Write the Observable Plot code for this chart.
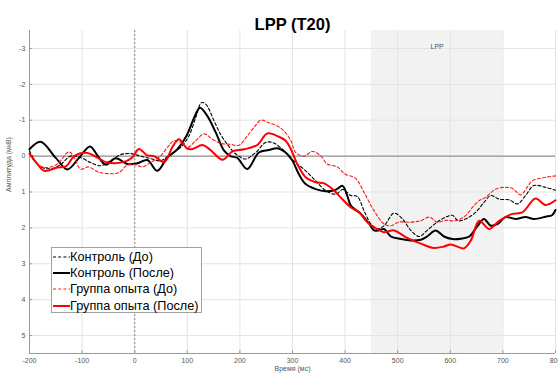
<!DOCTYPE html>
<html><head><meta charset="utf-8">
<script src="https://cdn.jsdelivr.net/npm/d3@7"></script>
<script src="https://cdn.jsdelivr.net/npm/@observablehq/plot@0.6"></script>
<style>
body{margin:0;background:#fff;font-family:"Liberation Sans",Arial,sans-serif;}
#wrap{position:relative;width:558px;height:376px;overflow:hidden;}
#legend{position:absolute;left:51px;top:247px;width:151px;height:66px;border:1px solid #a0a0a0;background:#fff;box-sizing:border-box;padding-top:1px;}
#legend .row{display:flex;align-items:center;height:16.2px;font-size:12.7px;color:#000;white-space:nowrap;}
#legend svg{display:block;margin-right:0px;}
</style>
</head><body>
<div id="wrap"></div>
<script>
// ---- data (time in ms, amplitude in µV) ----
const seriesNames = ["Контроль (До)", "Контроль (После)", "Группа опыта (До)", "Группа опыта (После)"];
const xTicks = [-200,-100,0,100,200,300,400,500,600,700,800];
const yTicks = [-3,-2,-1,0,1,2,3,4,5];
const lppWindow = [{start:450, end:700, mid:575, label:"LPP"}];

const controlBefore = [[-200,-0.15],[-185,0.22],[-172,0.34],[-153,0.33],[-138,0.2],[-122,0.0],[-103,0.04],[-84,0.18],[-65,0.27],[-46,0.13],[-27,-0.04],[-8,-0.07],[11,0.0],[30,0.07],[49,0.13],[68,-0.05],[87,-0.24],[103,-0.56],[116,-1.07],[127,-1.49],[135,-1.45],[151,-0.98],[163,-0.61],[176,-0.33],[189,-0.1],[200,0.02],[211,0.08],[230,-0.1],[249,-0.38],[262,-0.38],[281,-0.19],[293,0.0],[306,0.18],[325,0.41],[344,0.69],[363,0.96],[382,1.06],[396,0.93],[411,1.1],[423,1.12],[436,1.52],[449,1.89],[461,2.03],[474,1.94],[493,1.59],[509,1.75],[525,2.07],[541,2.24],[556,2.07],[575,1.84],[591,1.7],[604,1.65],[615,1.8],[629,1.75],[648,1.57],[664,1.29],[677,1.1],[693,1.2],[712,1.22],[728,1.33],[743,1.1],[759,0.82],[781,0.87],[800,0.95]];

const controlAfter = [[-200,-0.19],[-179,-0.4],[-150,0.05],[-128,0.37],[-105,0.03],[-85,-0.27],[-70,0.0],[-55,0.24],[-36,0.06],[-14,0.22],[5,0.2],[24,0.11],[43,0.41],[62,0.04],[81,-0.19],[100,-0.61],[113,-1.07],[124,-1.35],[138,-1.12],[154,-0.66],[170,-0.15],[182,0.0],[195,0.05],[214,0.36],[236,-0.1],[255,-0.17],[271,-0.22],[287,-0.1],[300,0.13],[312,0.5],[325,0.78],[344,0.92],[363,0.98],[382,0.94],[395,0.83],[404,1.1],[411,1.38],[430,1.61],[446,1.89],[455,2.07],[464,2.07],[474,2.03],[487,2.24],[506,2.31],[525,2.35],[544,2.33],[556,2.24],[572,2.07],[588,2.24],[604,2.31],[620,2.3],[636,2.24],[652,1.94],[664,1.75],[677,1.94],[690,1.89],[705,1.7],[724,1.75],[743,1.7],[759,1.75],[781,1.69],[794,1.64],[800,1.5]];

const groupBefore = [[-200,-0.05],[-185,0.22],[-168,0.32],[-147,0.22],[-125,-0.12],[-115,0.04],[-103,0.36],[-88,0.3],[-68,0.45],[-48,0.49],[-30,0.46],[-14,0.25],[0,0.24],[15,0.3],[30,0.18],[49,0.0],[62,-0.24],[75,-0.43],[87,-0.39],[100,-0.24],[116,-0.43],[132,-0.62],[148,-0.47],[165,-0.35],[182,-0.33],[198,-0.3],[214,-0.56],[227,-0.8],[240,-1.0],[255,-0.93],[271,-0.84],[284,-0.7],[297,-0.43],[306,-0.1],[322,0.0],[338,-0.13],[354,0.0],[366,0.22],[385,0.3],[400,0.5],[420,0.62],[436,1.01],[455,1.52],[474,1.89],[487,1.94],[502,1.84],[525,1.84],[544,1.8],[560,1.7],[575,1.84],[591,1.79],[610,1.8],[629,1.66],[642,1.43],[655,1.24],[667,1.15],[686,0.92],[705,0.87],[718,0.9],[734,1.08],[746,0.87],[756,0.69],[781,0.59],[800,0.55]];

const groupAfter = [[-200,-0.07],[-185,0.22],[-172,0.41],[-147,0.32],[-130,0.28],[-115,0.0],[-90,-0.09],[-71,0.04],[-52,0.18],[-20,0.16],[-4,0.03],[8,-0.2],[24,-0.02],[37,0.0],[56,0.17],[72,-0.26],[84,-0.47],[100,-0.21],[110,-0.2],[129,-0.31],[144,-0.17],[167,0.1],[186,-0.13],[208,-0.19],[233,-0.31],[252,-0.63],[274,-0.54],[287,-0.43],[297,-0.19],[309,0.22],[325,0.59],[344,0.73],[360,0.76],[376,0.92],[395,1.2],[411,1.43],[427,1.57],[442,1.84],[455,1.98],[474,2.12],[493,2.07],[518,2.28],[544,2.44],[569,2.56],[588,2.52],[601,2.46],[626,2.57],[639,2.35],[655,1.8],[674,2.03],[693,1.8],[718,1.61],[737,1.57],[762,1.18],[781,1.36],[800,1.23]];

// ---- styles ----
const styles = [
  {data: controlBefore, stroke:"#000", strokeWidth:1.1, dash:"3,2.2"},
  {data: controlAfter,  stroke:"#000", strokeWidth:2,   dash:null},
  {data: groupBefore,   stroke:"#ff1a1a", strokeWidth:1.1, dash:"3,2.2"},
  {data: groupAfter,    stroke:"#ff0000", strokeWidth:2,   dash:null}
];

const font = "Liberation Sans, Arial, sans-serif";
const chart = Plot.plot({
  width: 558, height: 376,
  marginTop: 30, marginBottom: 23, marginLeft: 29, marginRight: 3,
  style: {fontFamily: font, fontSize: "7px", color: "#4d4d4d", background: "#fff"},
  x: {domain: [-200, 800], label: null},
  y: {domain: [-3.5, 5.5], reverse: true, label: null},
  marks: [
    Plot.rect(lppWindow, {x1: "start", x2: "end", fill: "#f2f2f2"}),
    Plot.gridX(xTicks, {stroke: "#e3e3e3", strokeOpacity: 1}),
    Plot.gridY(yTicks, {stroke: "#e3e3e3", strokeOpacity: 1}),
    Plot.axisX(xTicks, {tickSize: 0, tickPadding: 5, fill: "#555", tickFormat: d => d}),
    Plot.axisY(yTicks, {tickSize: 0, tickPadding: 4, fill: "#555", tickFormat: d => d}),
    Plot.ruleY([5.5], {stroke: "#9a9a9a"}),
    Plot.ruleX([-200], {stroke: "#9a9a9a"}),
    Plot.ruleX(xTicks, {y1: 5.5, y2: 5.42, stroke: "#9a9a9a"}),
    Plot.ruleY(yTicks, {x1: -200, x2: -194, stroke: "#9a9a9a"}),
    Plot.ruleY([0], {stroke: "#7f7f7f", strokeWidth: 1}),
    Plot.ruleX([0], {stroke: "#9a9a9a", strokeWidth: 1.2, strokeDasharray: "2,2"}),
    Plot.text(lppWindow, {x: "mid", text: "label", frameAnchor: "top", dy: 14, fontSize: 7, fill: "#555"}),
    ...styles.map(s => Plot.line(s.data, {x: d => d[0], y: d => d[1], stroke: s.stroke, strokeWidth: s.strokeWidth, strokeDasharray: s.dash, curve: "catmull-rom"})),
    Plot.text(["LPP (T20)"], {frameAnchor: "top", dy: -12, fontSize: 16.5, fontWeight: "bold", fill: "#000"}),
    Plot.text(["Время (мс)"], {frameAnchor: "bottom", dy: 17, fontSize: 7, fill: "#555"}),
    Plot.text(["Амплитуда (мкВ)"], {frameAnchor: "left", dx: -21, rotate: -90, fontSize: 7, fill: "#555"})
  ]
});

const wrap = document.getElementById("wrap");
wrap.appendChild(chart);

// legend
const legend = document.createElement("div");
legend.id = "legend";
styles.forEach((s, i) => {
  const row = document.createElement("div");
  row.className = "row";
  row.innerHTML = `<svg width="18" height="8"><line x1="1" x2="18" y1="4" y2="4" stroke="${s.stroke}" stroke-width="${s.strokeWidth}" ${s.dash ? `stroke-dasharray="${s.dash}"` : ""}/></svg><span>${seriesNames[i]}</span>`;
  legend.appendChild(row);
});
wrap.appendChild(legend);
</script>
</body></html>
